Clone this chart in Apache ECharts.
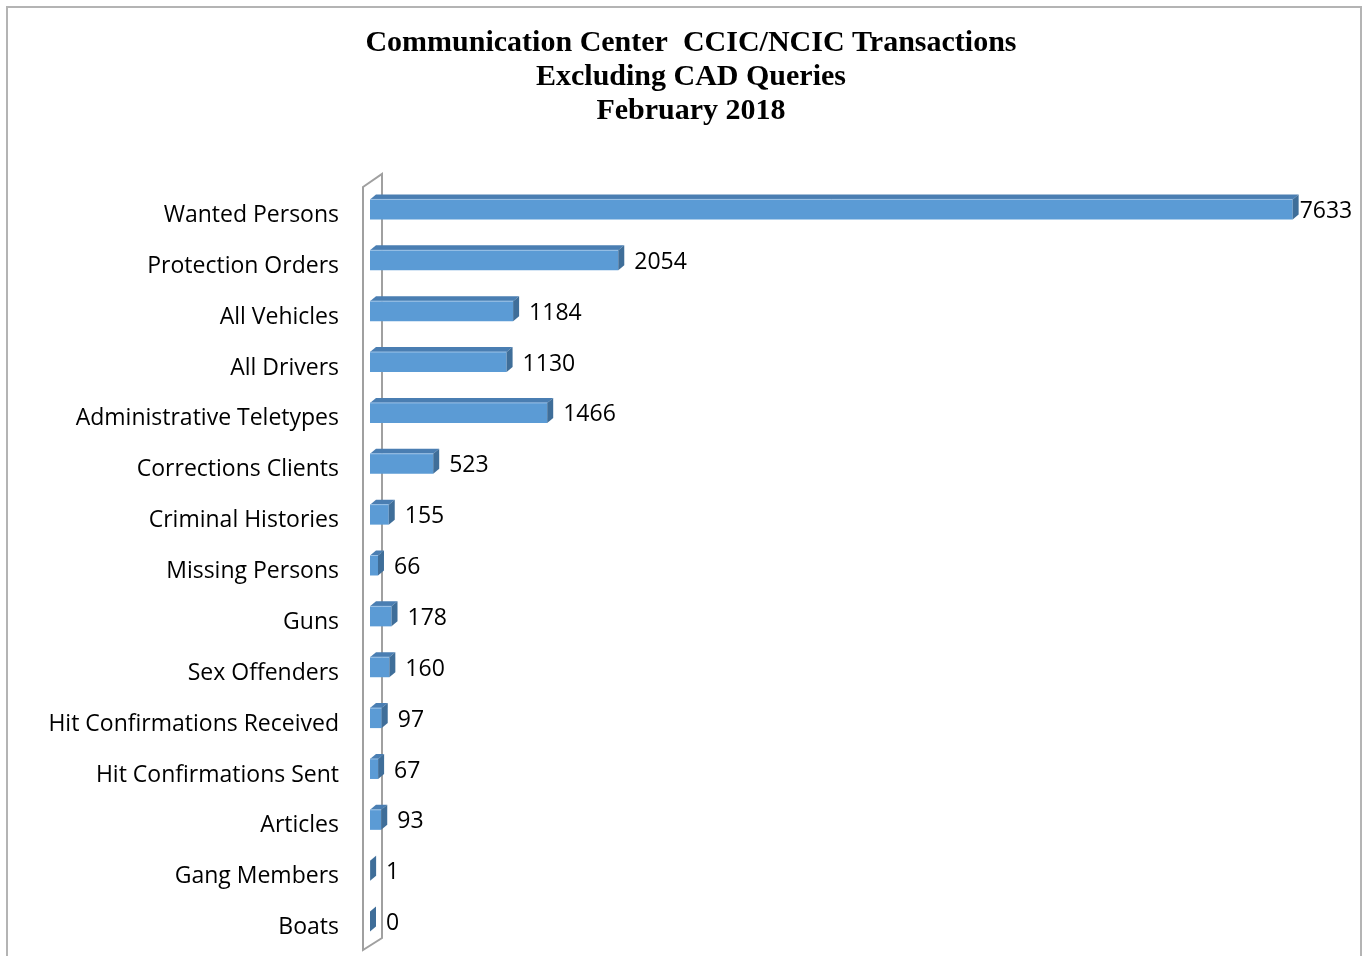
<!DOCTYPE html>
<html>
<head>
<meta charset="utf-8">
<script src="https://cdn.jsdelivr.net/npm/echarts@6/dist/echarts.min.js"></script>
<style>
  html, body { margin: 0; padding: 0; background: #fff; }
  #chart { width: 1369px; height: 956px; }
</style>
</head>
<body>
<div id="chart"></div>
<script>
// Transaction categories, top to bottom
const categories = [
  'Wanted Persons', 'Protection Orders', 'All Vehicles', 'All Drivers',
  'Administrative Teletypes', 'Corrections Clients', 'Criminal Histories',
  'Missing Persons', 'Guns', 'Sex Offenders', 'Hit Confirmations Received',
  'Hit Confirmations Sent', 'Articles', 'Gang Members', 'Boats'
];
// Transaction counts, February 2018
const transactions = [7633, 2054, 1184, 1130, 1466, 523, 155, 66, 178, 160, 97, 67, 93, 1, 0];

const titleLines = [
  'Communication Center  CCIC/NCIC Transactions',
  'Excluding CAD Queries',
  'February 2018'
];

const W = 1369, H = 956;
const GRID_LEFT = 370, GRID_TOP = 190, GRID_HEIGHT = 763, GRID_RIGHT = 32;
const DEPTH_X = 6, DEPTH_Y = 5, HALF_BAR = 10;
// bars sit a little above the middle of their category band
const BAR_SHIFT = -6;
const LABEL_FONT = '23px "Open Sans"';

const measureCtx = document.createElement('canvas').getContext('2d');
measureCtx.font = LABEL_FONT;

function renderBar(params, api) {
  const idx = api.value(0);
  const val = api.value(1);
  const end = api.coord([val, idx]);
  const start = api.coord([0, idx]);
  const x0 = start[0], x1 = end[0], yc = end[1] + BAR_SHIFT;
  const yt = yc - HALF_BAR, yb = yc + HALF_BAR;
  const children = [
    { type: 'rect', shape: { x: x0, y: yt, width: x1 - x0, height: yb - yt },
      style: { fill: '#5b9bd5' } },
    { type: 'polygon', shape: { points: [[x0, yt], [x0 + DEPTH_X, yt - DEPTH_Y], [x1 + DEPTH_X, yt - DEPTH_Y], [x1, yt]] },
      style: { fill: '#4a7eb2' } },
    { type: 'line', shape: { x1: x0, y1: yt, x2: x1, y2: yt },
      style: { stroke: '#9cc3e8', lineWidth: 1 } },
    { type: 'polygon', shape: { points: [[x1, yt], [x1 + DEPTH_X, yt - DEPTH_Y], [x1 + DEPTH_X, yb - DEPTH_Y], [x1, yb]] },
      style: { fill: '#3f6e99' } }
  ];
  const text = String(val);
  const tw = measureCtx.measureText(text).width;
  let tx = x1 + DEPTH_X + 10;
  if (tx + tw > W - 17) tx = Math.max(x1 + DEPTH_X + 1, W - 17 - tw);
  children.push({
    type: 'text',
    style: { text: text, x: tx, y: yc + 2, font: LABEL_FONT, fill: '#000',
             textAlign: 'left', textVerticalAlign: 'middle' }
  });
  return { type: 'group', children: children };
}

const gridBottomY = GRID_TOP + GRID_HEIGHT;

const chart = echarts.init(document.getElementById('chart'), null, { renderer: 'canvas' });
chart.setOption({
  backgroundColor: '#ffffff',
  animation: false,
  title: {
    text: titleLines.join('\n'),
    left: 686,
    top: 21,
    textAlign: 'center',
    textStyle: {
      fontFamily: '"Liberation Serif", serif',
      fontWeight: 'bold',
      fontSize: 30,
      lineHeight: 34,
      color: '#000'
    }
  },
  grid: { left: GRID_LEFT, top: GRID_TOP, height: GRID_HEIGHT, right: GRID_RIGHT, containLabel: false },
  xAxis: {
    type: 'value', min: 0, max: 8000,
    show: false
  },
  yAxis: {
    type: 'category',
    data: categories,
    inverse: true,
    axisLine: { show: false },
    axisTick: { show: false },
    splitLine: { show: false },
    axisLabel: {
      margin: 31,
      fontFamily: '"Open Sans"',
      fontSize: 23,
      color: '#000'
    }
  },
  graphic: [
    { type: 'rect', shape: { x: 7, y: 7, width: 1354, height: 970 },
      style: { fill: 'none', stroke: '#b4b4b4', lineWidth: 2 }, silent: true },
    { type: 'polygon', z: 1,
      shape: { points: [
        [GRID_LEFT - 7, GRID_TOP - 3], [GRID_LEFT + 12, GRID_TOP - 16],
        [GRID_LEFT + 12, gridBottomY - 15], [GRID_LEFT - 7, gridBottomY - 3]
      ] },
      style: { fill: 'none', stroke: '#a0a0a0', lineWidth: 2 }, silent: true }
  ],
  series: [{
    type: 'custom',
    renderItem: renderBar,
    encode: { x: 1, y: 0 },
    data: transactions.map((v, i) => [i, v]),
    z: 5
  }]
});
</script>
</body>
</html>
